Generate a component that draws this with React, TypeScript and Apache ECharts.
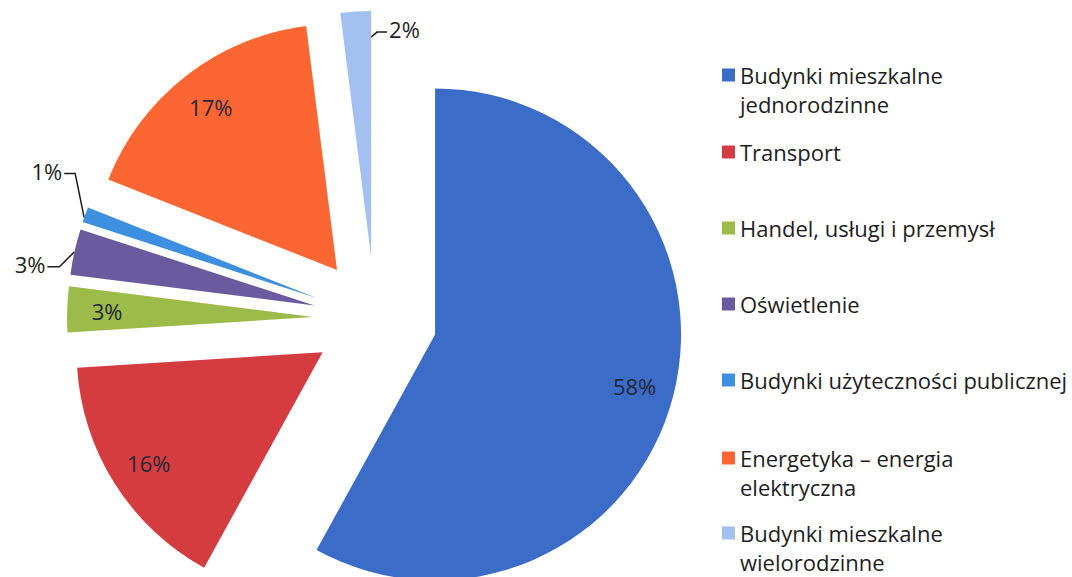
import React, { useEffect, useRef } from "react";
import * as echarts from "echarts";

const categories = [
  "Budynki mieszkalne jednorodzinne",
  "Transport",
  "Handel, usługi i przemysł",
  "Oświetlenie",
  "Budynki użyteczności publicznej",
  "Energetyka – energia elektryczna",
  "Budynki mieszkalne wielorodzinne",
];
const legendLines = [
  ["Budynki mieszkalne", "jednorodzinne"],
  ["Transport"],
  ["Handel, usługi i przemysł"],
  ["Oświetlenie"],
  ["Budynki użyteczności publicznej"],
  ["Energetyka – energia", "elektryczna"],
  ["Budynki mieszkalne", "wielorodzinne"],
];
const values = [58, 16, 3, 3, 1, 17, 2];
const colors = ["#3a6cc8", "#d43c40", "#9dbb48", "#6a5a9e", "#3d8fe0", "#fc6633", "#a2c1f0"];
const insideLabel = [true, true, true, false, false, true, false];

// layout (not data): legend icon centres and outside-label leader geometry
const legendIconY = [75, 152, 228, 304, 380, 458, 533];
// outside labels: [anchor angle fraction, radius inset, elbow dx, elbow dy, text dx, text dy, align]
const outsideLayout: Record<number, [number, number, number, number, number, number, "left" | "right"]> = {
  3: [0.5, 0, -15, 15, -27, 15, "right"],
  4: [0.3, 0, -9, -44, -20, -44, "right"],
  6: [1, 26, 6, -5, 16, -5, "left"],
};

const FONT = "'Open Sans', 'Noto Sans', sans-serif";
const CX = 375;
const CY = 319;
const R = 246;
const OFFSET = 62;

const total = values.reduce((a, b) => a + b, 0);
const cumStart = values.map((_, i) => values.slice(0, i).reduce((a, b) => a + b, 0));
const dir = (deg: number) => {
  const a = (deg * Math.PI) / 180;
  return [Math.sin(a), -Math.cos(a)];
};
function anchorPoint(i: number, frac: number, inset: number) {
  const s = (cumStart[i] / total) * 360;
  const e = ((cumStart[i] + values[i]) / total) * 360;
  const mid = (s + e) / 2;
  const d0 = dir(mid);
  const vx = CX + OFFSET * d0[0];
  const vy = CY + OFFSET * d0[1];
  const d1 = dir(s + (e - s) * frac);
  return [vx + (R - inset) * d1[0], vy + (R - inset) * d1[1]];
}

export default function App() {
  const ref = useRef<HTMLDivElement>(null);
  useEffect(() => {
    if (!ref.current) return;
    const chart = echarts.init(ref.current, null, { renderer: "svg" });
    const lh = 29;
    const legends = categories.map((name, i) => {
      const lines = legendLines[i];
      const twoLine = lines.length > 1;
      return {
        orient: "vertical",
        left: 722,
        top: legendIconY[i] - (twoLine ? 1.5 * lh : 0.5 * lh),
        padding: 0,
        itemWidth: 13,
        itemHeight: 13,
        itemGap: 0,
        icon: "rect",
        selectedMode: false,
        data: [name],
        formatter: () => (twoLine ? "\n" + lines.join("\n") : lines[0]),
        textStyle: {
          fontFamily: FONT,
          fontSize: 22,
          color: "#1e1e1e",
          lineHeight: lh,
        },
      };
    });
    const mainData = categories.map((name, i) => ({ name, value: values[i], selected: true }));
    const insideData = categories.map((name, i) => ({
      name,
      value: values[i],
      selected: true,
      label: { show: insideLabel[i] },
    }));
    const outsideData = categories.map((name, i) => ({
      name,
      value: values[i],
      label: { show: !insideLabel[i] },
      labelLine: { show: !insideLabel[i] },
    }));
    const transparent = { color: "transparent", borderWidth: 0 };
    chart.setOption({
      animation: false,
      color: colors,
      legend: legends,
      series: [
        {
          type: "pie",
          center: [CX, CY],
          radius: [0, R],
          startAngle: 90,
          clockwise: true,
          selectedMode: "multiple",
          selectedOffset: OFFSET,
          itemStyle: { borderWidth: 0 },
          select: { itemStyle: { borderWidth: 0 } },
          emphasis: { disabled: true },
          label: { show: false },
          labelLine: { show: false },
          data: mainData,
        },
        {
          type: "pie",
          center: [CX, CY],
          radius: [160, R],
          startAngle: 90,
          clockwise: true,
          silent: true,
          selectedMode: "multiple",
          selectedOffset: OFFSET,
          itemStyle: transparent,
          select: { itemStyle: transparent },
          emphasis: { disabled: true },
          label: {
            position: "inside",
            formatter: "{c}%",
            fontFamily: FONT,
            fontSize: 22,
            color: "#232838",
          },
          labelLine: { show: false },
          data: insideData,
        },
        {
          type: "pie",
          center: [CX, CY],
          radius: [0, R],
          startAngle: 90,
          clockwise: true,
          silent: true,
          selectedMode: false,
          avoidLabelOverlap: false,
          itemStyle: transparent,
          emphasis: { disabled: true },
          label: {
            position: "outside",
            formatter: "{c}%",
            fontFamily: FONT,
            fontSize: 22,
            color: "#1e1e1e",
          },
          labelLine: {
            length: 10,
            length2: 10,
            lineStyle: { color: "#1e1e1e", width: 1.5 },
          },
          labelLayout: (params: any) => {
            const cfg = outsideLayout[params.dataIndex];
            if (!cfg) return {};
            const [frac, inset, ex, ey, tx, ty, align] = cfg;
            const p = anchorPoint(params.dataIndex, frac, inset);
            const elbow = [p[0] + ex, p[1] + ey];
            const end = [p[0] + tx, p[1] + ty];
            return {
              x: end[0] + (align === "right" ? -2 : 2),
              y: end[1] - 3,
              align,
              verticalAlign: "middle",
              labelLinePoints: [p, elbow, end],
            };
          },
          data: outsideData,
        },
      ],
    });
    return () => chart.dispose();
  }, []);
  return (
    <div
      ref={ref}
      style={{ position: "absolute", left: 0, top: 0, width: 1072, height: 577, background: "#fff" }}
    />
  );
}
